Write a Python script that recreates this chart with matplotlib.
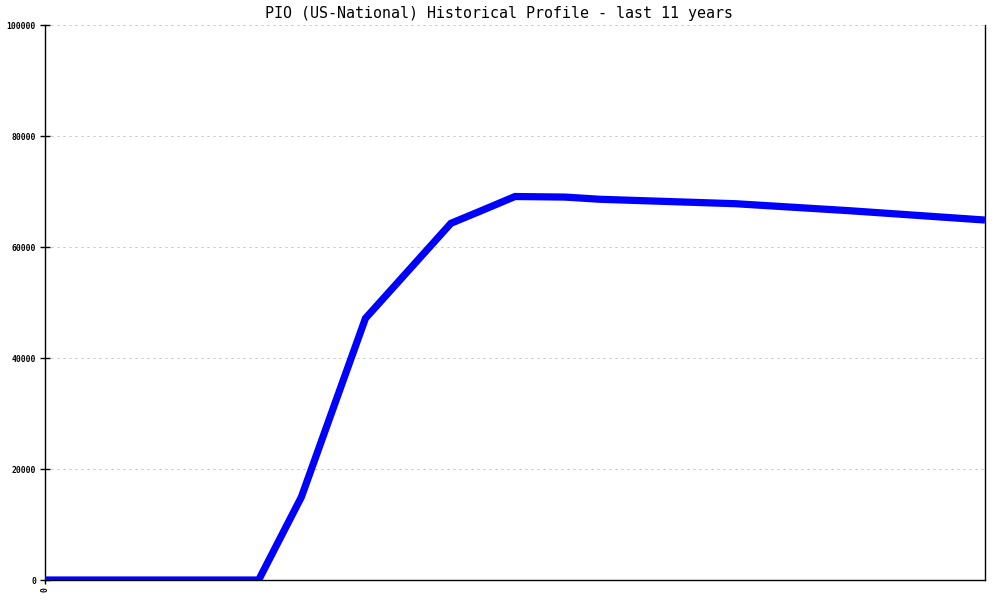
import matplotlib.pyplot as plt

# === Data (months over last 11 years, count) ===
months = [0, 30, 36, 45, 57, 61, 66, 73, 78, 97, 113, 132]
values = [0, 0, 14950, 47150, 64270, 66400, 69100, 69000, 68600, 67800, 66540, 64860]

y_ticks = [0, 20000, 40000, 60000, 80000, 100000]
x_ticks = [0]
x_labels = ["0"]
title = "PIO (US-National) Historical Profile - last 11 years"

mono = ["DejaVu Sans Mono", "Liberation Mono"]

fig = plt.figure(figsize=(10, 6), dpi=100)
ax = fig.add_axes([0.045, 0.0333, 0.94, 0.925])

ax.plot(months, values, color="#0000ff", linewidth=5.2, solid_joinstyle="miter",
        solid_capstyle="butt", zorder=3)

ax.set_xlim(0, 132)
ax.set_ylim(0, 100000)
ax.set_yticks(y_ticks)
ax.set_yticklabels([str(v) for v in y_ticks], family=mono, fontsize=5.8, fontweight="bold")
ax.set_xticks(x_ticks)
ax.set_xticklabels(x_labels, family=mono, fontsize=5.8, fontweight="bold", rotation=90)
ax.tick_params(axis="y", direction="inout", length=7, width=1, pad=3)
ax.tick_params(axis="x", direction="out", length=3, width=1, pad=2)

ax.grid(axis="y", color="#c0c0c0", linewidth=0.72, linestyle=(0, (2, 4)))
ax.spines["top"].set_visible(False)
for s in ["left", "bottom", "right"]:
    ax.spines[s].set_linewidth(1)
    ax.spines[s].set_color("black")

fig.text(0.499, 0.978, title, ha="center", va="center", family=mono, fontsize=10.8)

fig.savefig("out.png", dpi=100)
